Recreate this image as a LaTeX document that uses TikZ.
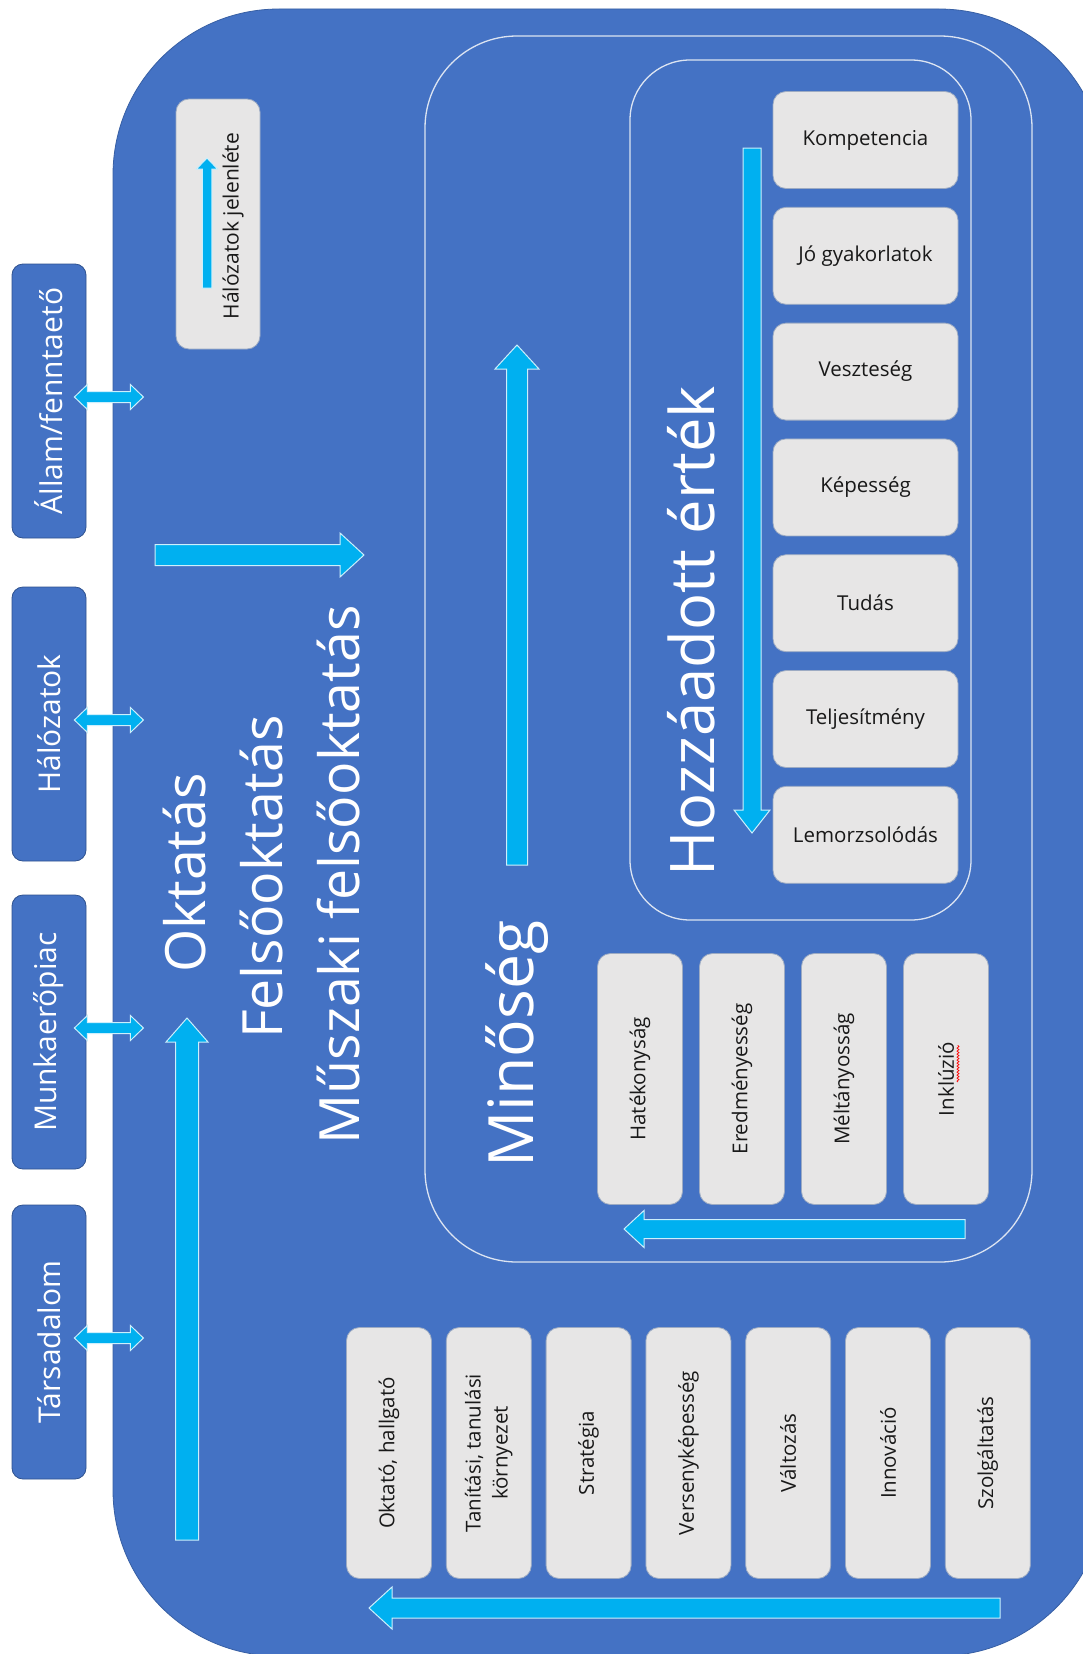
\documentclass[tikz,border=0pt]{standalone}
\usepackage{fontspec}
\setmainfont{Open Sans}
\usetikzlibrary{positioning, calc, decorations.pathmorphing}

\definecolor{mainblue}{HTML}{4472C4}
\definecolor{darkedge}{HTML}{2F528F}
\definecolor{arrowcyan}{HTML}{00B0F0}
\definecolor{boxgray}{HTML}{E7E6E6}
\definecolor{frameline}{HTML}{DCE4F2}

\tikzset{
  graybox/.style={fill=boxgray, draw=darkedge!40!boxgray, line width=0.8pt, rounded corners=13pt,
    inner sep=0pt, font=\fontsize{20.5}{27}\selectfont, text=black!90, align=center},
  hbox/.style={graybox, minimum width=185pt, minimum height=97pt},
  vbox/.style={graybox, rotate=90, minimum width=251pt, minimum height=85pt},
  sidebox/.style={fill=mainblue, draw=darkedge, line width=0.8pt, rounded corners=11pt, rotate=90,
    minimum width=274pt, minimum height=74pt, text=white, font=\fontsize{30}{36}\selectfont},
  bigtext/.style={rotate=90, text=white, inner sep=0pt, anchor=base, font=\fontsize{55.5}{64}\selectfont},
  frame/.style={draw=frameline, line width=1.3pt},
  arrowbody/.style={fill=arrowcyan, draw=white!80!arrowcyan, line width=1pt},
}

% block arrow: from, to, shaft half width, head half width, head length
\newcommand{\blockarrow}[5]{%
  \coordinate (ba-h) at ($(#2)!#5!(#1)$);
  \draw[arrowbody] ($(#1)!#3!90:(#2)$) -- ($(ba-h)!#3!-90:(#1)$)
    -- ($(ba-h)!#4!-90:(#1)$) -- (#2) -- ($(ba-h)!#4!90:(#1)$)
    -- ($(ba-h)!#3!90:(#1)$) -- ($(#1)!#3!-90:(#2)$) -- cycle;
}
% block arrow with two heads
\newcommand{\dblarrow}[5]{%
  \coordinate (da-a) at ($(#1)!#5!(#2)$);
  \coordinate (da-b) at ($(#2)!#5!(#1)$);
  \draw[arrowbody] (#1) -- ($(da-a)!#4!90:(#2)$) -- ($(da-a)!#3!90:(#2)$)
    -- ($(da-b)!#3!-90:(#1)$) -- ($(da-b)!#4!-90:(#1)$) -- (#2)
    -- ($(da-b)!#4!90:(#1)$) -- ($(da-b)!#3!90:(#1)$)
    -- ($(da-a)!#3!-90:(#2)$) -- ($(da-a)!#4!-90:(#2)$) -- cycle;
}

\begin{document}
\begin{tikzpicture}[x=1pt, y=-1pt]
  \useasboundingbox (0,0) rectangle (1083,1654);
  \clip (0,0) rectangle (1083,1654);
  \fill[white] (0,0) rectangle (1083,1654);

  % the institution
  \draw[fill=mainblue, draw=darkedge!60!mainblue, line width=0.8pt, rounded corners=166pt]
    (113,9) rectangle (1105,1656);
  \draw[frame, rounded corners=92pt] (425,36) rectangle (1032,1262);
  \draw[frame, rounded corners=60pt] (630,60) rectangle (971,920);

  % stakeholders
  \node[sidebox] (allam) at (49,401) {Állam/fenntaető};
  \node[sidebox] (halo) at (49,724) {Hálózatok};
  \node[sidebox] (munka) at (49,1032) {Munkaerőpiac};
  \node[sidebox] (tars) at (49,1342) {Társadalom};
  \foreach \n in {allam, halo, munka, tars} {
    \coordinate (\n-l) at ($(\n.south)+(-12,-4)$);
    \coordinate (\n-r) at ($(\n.south)+(57,-4)$);
    \dblarrow{\n-l}{\n-r}{5.5pt}{12.5pt}{13pt}
  }

  % legend
  \node[graybox, rotate=90, minimum width=250pt, minimum height=84pt] (legend) at (218,224) {};
  \node[rotate=90, inner sep=0pt, font=\fontsize{21}{24}\selectfont, text=black!90] (legendtext)
    at (233,226) {Hálózatok jelenléte};
  \coordinate (leg-s) at (207,288);
  \coordinate (leg-e) at (207,158);
  \blockarrow{leg-s}{leg-e}{4.75pt}{10.5pt}{11pt}

  % levels of education
  \node[bigtext] (okt) at (205,873) {Oktatás};
  \node[bigtext] (felso) at (282,877) {Felsőoktatás};
  \node[bigtext] (muszaki) at (359,875) {Műszaki felsőoktatás};
  \coordinate (edu-s) at (155,555);
  \coordinate (edu-e) at (364,555);
  \blockarrow{edu-s}{edu-e}{10.5pt}{22pt}{24pt}
  \coordinate (lvl-s) at (187,1540);
  \coordinate (lvl-e) at (187,1018);
  \blockarrow{lvl-s}{lvl-e}{11.5pt}{21pt}{24pt}

  % quality
  \node[bigtext, font=\fontsize{62.5}{70}\selectfont] (min) at (533,1044) {Minőség};
  \coordinate (min-s) at (517,865);
  \coordinate (min-e) at (517,345);
  \blockarrow{min-s}{min-e}{10.5pt}{22pt}{24pt}

  % added value
  \node[bigtext, font=\fontsize{61.5}{70}\selectfont] (hozza) at (714,631) {Hozzáadott érték};
  \foreach \t [count=\i] in {Kompetencia, Jó gyakorlatok, Veszteség, Képesség, Tudás, Teljesítmény, Lemorzsolódás}
    \node[hbox] (hv-\i) at (865.5,{140+115.8*(\i-1)}) {\t};
  \coordinate (hv-s) at (752,148);
  \coordinate (hv-e) at (752,833);
  \blockarrow{hv-s}{hv-e}{9pt}{18pt}{23pt}

  % quality dimensions
  \foreach \t [count=\i] in {Hatékonyság, Eredményesség, Méltányosság, Inklúzió}
    \node[vbox] (q-\i) at ({640+102*(\i-1)},1079) {\t};
  \draw[red, line width=0.7pt, decorate, decoration={snake, amplitude=1pt, segment length=3pt}]
    (958,1082) -- (958,1045);
  \coordinate (q-s) at (965,1229);
  \coordinate (q-e) at (624,1229);
  \blockarrow{q-s}{q-e}{9.5pt}{18.5pt}{20pt}

  % factors
  \foreach \t [count=\i] in {{Oktató, hallgató}, {Tanítási, tanulási\\környezet}, Stratégia, Versenyképesség, Változás, Innováció, Szolgáltatás}
    \node[vbox] (f-\i) at ({389+99.8*(\i-1)},1453) {\t};
  \coordinate (f-s) at (1000,1608);
  \coordinate (f-e) at (369,1608);
  \blockarrow{f-s}{f-e}{10pt}{21pt}{23pt}
\end{tikzpicture}
\end{document}
